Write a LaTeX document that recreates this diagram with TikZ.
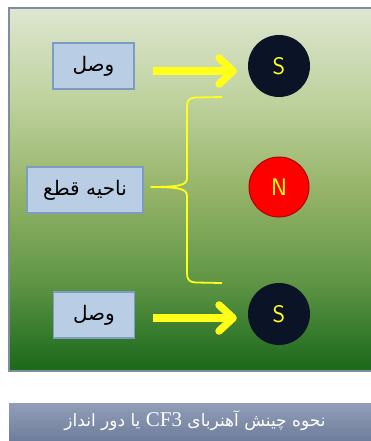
\documentclass[tikz,border=0pt]{standalone}
\usepackage{fontspec}
\usetikzlibrary{arrows.meta}
\TeXXeTstate=1
\newfontfamily\arabicfont[Script=Arabic]{DejaVu Sans}
\setmainfont{Liberation Serif}
\definecolor{boxfill}{HTML}{B9CDE5}
\definecolor{boxline}{HTML}{7D9CC2}
\definecolor{panline}{HTML}{7F8E9E}
\definecolor{magyel}{HTML}{FFFF1A}
\definecolor{poledark}{HTML}{0B1426}
\definecolor{pgA}{RGB}{26,104,26}
\definecolor{pgB}{RGB}{96,150,70}
\definecolor{pgC}{RGB}{150,180,105}
\definecolor{pgD}{RGB}{190,210,158}
\definecolor{pgE}{RGB}{222,230,208}
\definecolor{cpA}{RGB}{108,124,154}
\definecolor{cpB}{RGB}{146,158,184}
\pgfdeclareverticalshading{panelshade}{100bp}{
  color(0bp)=(pgA); color(25bp)=(pgA);
  color(37.5bp)=(pgB);
  color(50bp)=(pgC);
  color(62.5bp)=(pgD);
  color(75bp)=(pgE); color(100bp)=(pgE)}
\pgfdeclareverticalshading{capshade}{100bp}{
  color(0bp)=(cpA); color(25bp)=(cpA);
  color(75bp)=(cpB); color(100bp)=(cpB)}
\begin{document}
\begin{tikzpicture}[x=1pt,y=-1pt,
  labelbox/.style={draw=boxline,line width=1.2pt,fill=boxfill,minimum width=81pt,minimum height=46pt,inner sep=0pt,font=\arabicfont\fontsize{20}{22}\selectfont},
  pole/.style={circle,minimum size=62pt,inner sep=0pt,font=\sffamily\fontsize{24}{26}\selectfont,text=magyel},
  yarrow/.style={draw=magyel,line width=7.5pt,-{Straight Barb[length=14pt,width=26pt,line width=7.5pt,round]}}]
\useasboundingbox (0,0) rectangle (370,441);
\fill[white] (0,0) rectangle (370,441);
% panel
\shade[shading=panelshade] (9,8) rectangle (372,371);
\draw[panline,line width=1.5pt] (372,8) -- (9,8) -- (9,371) -- (372,371);
% caption bar
\shade[shading=capshade] (9,403) rectangle (372,442);
\node[text=white,font=\arabicfont\fontsize{17}{19}\selectfont] (cap) at (195,421) {\beginR نحوه چینش آهنربای \beginL{\rmfamily\fontsize{21}{23}\selectfont CF3}\endL{} یا دور انداز\endR};
% boxes
\node[labelbox] (b1) at (93.5,66) {\beginR وصل\endR};
\node[labelbox,minimum width=116pt] (b2) at (85,190) {\beginR ناحیه قطع\endR};
\node[labelbox] (b3) at (94,315) {\beginR وصل\endR};
% poles
\node[pole,fill=poledark] (s1) at (279,66) {S};
\node[pole,fill=red,draw=red!70!black,line width=1pt,minimum size=60pt] (n1) at (279,187) {N};
\node[pole,fill=poledark] (s2) at (279,314) {S};
% arrows
\coordinate (a1) at (153,71);
\coordinate (a2) at (153,318);
\draw[yarrow,shorten >=11pt] (a1) -- (a1 -| s1.west);
\draw[yarrow,shorten >=11pt] (a2) -- (a2 -| s2.west);
% brace
\coordinate (bt) at (222,97);
\coordinate (bb) at (222,283);
\coordinate (bc) at (151,187);
\draw[magyel,line width=1.8pt,line join=round]
  (bt) -- (196,97.5) .. controls (188,98) and (187,101) .. (187,108)
  -- (187,178) .. controls (187,185) and (180,187) .. (bc)
  .. controls (180,187) and (187,189) .. (187,196)
  -- (187,272) .. controls (187,279) and (188,282) .. (196,282.5) -- (bb);
\end{tikzpicture}
\end{document}
